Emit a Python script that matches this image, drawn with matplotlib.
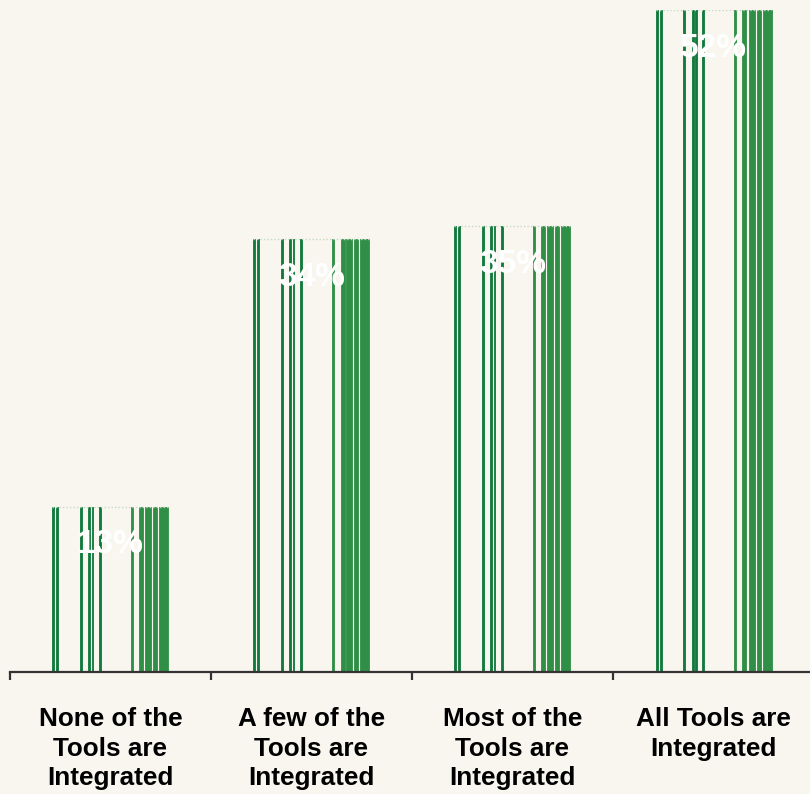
import numpy as np
import matplotlib
matplotlib.use("Agg")
import matplotlib.pyplot as plt

categories = ["None of the\nTools are\nIntegrated", "A few of the\nTools are\nIntegrated",
              "Most of the\nTools are\nIntegrated", "All Tools are\nIntegrated"]
values = [13, 34, 35, 52]
labels = ["13%", "34%", "35%", "52%"]

# stripe pattern inside each bar: (left, right) in px from the bar's left edge
stripes_dark = [(0, 2), (4, 6), (28, 30), (36, 38), (39.5, 41), (47, 49)]
stripes_light = [(79, 81), (87, 91), (93, 99), (101, 105), (107, 116)]
bar_px = 116.0

bg = "#f9f6ef"
plt.rcParams['font.family'] = ['Liberation Sans', 'DejaVu Sans']

fig = plt.figure(figsize=(8.1, 7.94), dpi=100, facecolor=bg)
ax = fig.add_axes([10/810, 122/794, 800/810, 662/794])
ax.set_facecolor(bg)

unit = 201.0  # px per category
bw = bar_px / unit
x = np.arange(len(values))

for group, col in ((stripes_dark, "#0f7a3c"), (stripes_light, "#2f8f46")):
    for a, b in group:
        ax.bar(x - bw/2 + (a + b) / 2 / unit, values, width=(b - a) / unit,
               color=col, edgecolor=col, linewidth=0.6)

# faint dotted top edge
for xi, v in zip(x, values):
    ax.plot([xi - bw/2, xi + bw/2], [v, v], color="#c4dac6", lw=1, ls=(0, (1, 1.5)))

for xi, v, t in zip(x, values, labels):
    ax.text(xi, v - 3.0, t, ha='center', va='center', color='white',
            fontsize=24, fontweight='bold')

ax.set_xlim(-0.5, -0.5 + 800 / unit)
ax.set_ylim(0, 52)

for s in ['top', 'right', 'left']:
    ax.spines[s].set_visible(False)
ax.spines['bottom'].set_color('#333333')
ax.spines['bottom'].set_linewidth(1.6)
ax.set_yticks([])

ax.set_xticks(x)
ax.set_xticklabels(categories, fontsize=18.8, fontweight='bold', color='black',
                   linespacing=1.28)
ax.tick_params(axis='x', which='major', length=0, pad=25.5)
ax.set_xticks(np.arange(len(values)) - 0.5, minor=True)
ax.tick_params(axis='x', which='minor', length=6, width=1.6, color='#333333', direction='out')

fig.savefig("out.png", dpi=100, facecolor=bg)
